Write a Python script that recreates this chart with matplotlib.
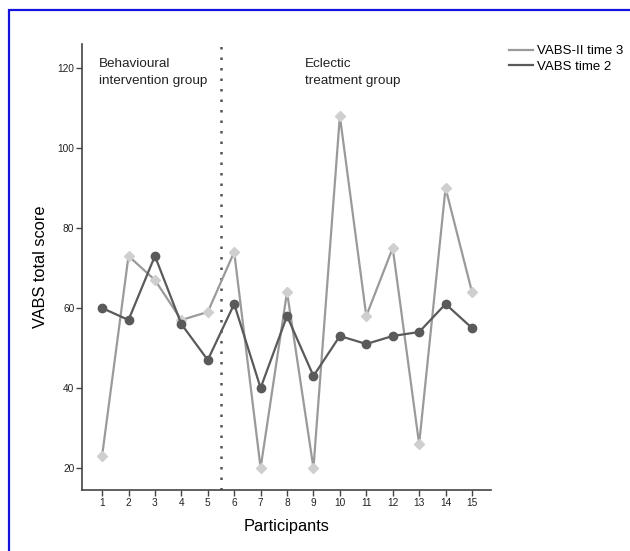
import matplotlib
matplotlib.use("Agg")
import matplotlib.pyplot as plt
from matplotlib.patches import Rectangle

plt.rcParams['font.family'] = ['Liberation Sans', 'DejaVu Sans']

# datos
participantes = list(range(1, 16))
vabs2_t3 = [23, 73, 67, 57, 59, 74, 20, 64, 20, 108, 58, 75, 26, 90, 64]
vabs_t2 = [60, 57, 73, 56, 47, 61, 40, 58, 43, 53, 51, 53, 54, 61, 55]
y_ticks = [20, 40, 60, 80, 100, 120]
corte_grupo = 5.5

fig = plt.figure(figsize=(6.3, 5.51), dpi=100)
ax = fig.add_axes([82 / 630, 1 - 490 / 551, (491 - 82) / 630, (490 - 44) / 551])

# marco azul alrededor de la figura
fig.patches.append(Rectangle((9 / 630, -0.1), 1.2, 1 - 10 / 551 + 0.1,
                             transform=fig.transFigure, fill=False,
                             edgecolor="#1414dc", linewidth=1.6, zorder=10))

ax.plot(participantes, vabs2_t3, color="#9a9a9a", linewidth=1.6,
        marker="D", markersize=5, markerfacecolor="#cfcfcf",
        markeredgecolor="#cfcfcf", label="VABS-II time 3", zorder=3)
ax.plot(participantes, vabs_t2, color="#5a5a5a", linewidth=1.6,
        marker="o", markersize=6, markerfacecolor="#5a5a5a",
        markeredgecolor="#5a5a5a", label="VABS time 2", zorder=4)

ax.axvline(corte_grupo, color="#555555", linestyle=(0, (1, 3.2)),
           linewidth=1.8, zorder=2)

ax.set_xlim(0.24, 15.72)
ax.set_ylim(14.5, 126)
ax.set_xticks(participantes)
ax.set_yticks(y_ticks)
ax.tick_params(axis="both", labelsize=7.3, length=4, width=1, color="#444444",
               labelcolor="#222222", pad=1.5)
for s in ["top", "right"]:
    ax.spines[s].set_visible(False)
for s in ["left", "bottom"]:
    ax.spines[s].set_color("#444444")
    ax.spines[s].set_linewidth(1.2)

ax.set_ylabel("VABS total score", fontsize=11.8, labelpad=7)
ax.set_xlabel("Participants", fontsize=11.8, labelpad=8)

ax.text(0.89, 122.5, "Behavioural\nintervention group", fontsize=9.7,
        va="top", ha="left", linespacing=1.55, color="#222222")
ax.text(8.69, 122.5, "Eclectic\ntreatment group", fontsize=9.7,
        va="top", ha="left", linespacing=1.55, color="#222222")

fig.legend(loc="upper left", bbox_to_anchor=(509 / 630, 1 - 45 / 551),
           frameon=False, fontsize=9.5, handlelength=1.82, handletextpad=0.3,
           labelspacing=0.25, borderaxespad=0, borderpad=0)
leg = fig.legends[0]
for ln in leg.get_lines():
    ln.set_marker("")

fig.savefig("out.png", dpi=100)
